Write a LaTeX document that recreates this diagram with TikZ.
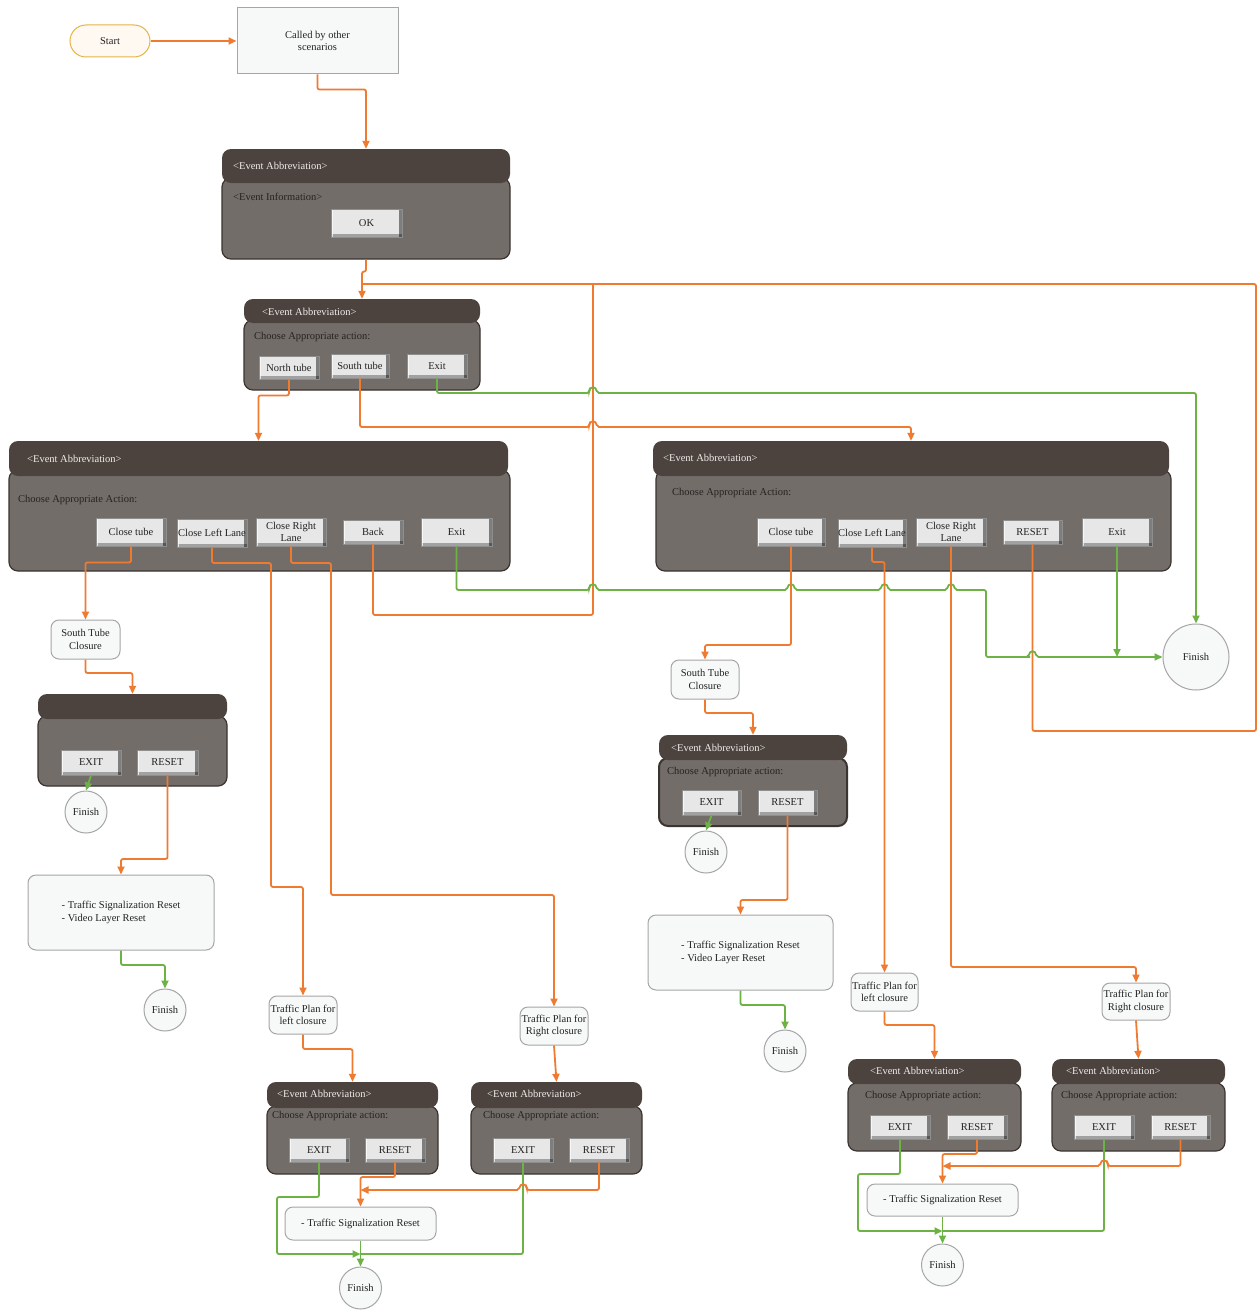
\documentclass[tikz,border=0pt]{standalone}
\usepackage{fontspec}
\setmainfont{Liberation Serif}
\usetikzlibrary{arrows.meta,fit}
\definecolor{hdrc}{HTML}{4C433E}
\definecolor{bodyc}{HTML}{736D69}
\definecolor{bodyline}{HTML}{3B3430}
\definecolor{btnc}{HTML}{E7E7E7}
\definecolor{btnline}{HTML}{8E8E8E}
\definecolor{orng}{HTML}{EE7B30}
\definecolor{grn}{HTML}{6CB245}
\definecolor{nodefill}{HTML}{F7F9F9}
\definecolor{nodeline}{HTML}{A6A6A6}
\definecolor{startfill}{HTML}{FFF9F1}
\definecolor{startline}{HTML}{E4B445}
\definecolor{hdrtext}{HTML}{EFEDEB}
\definecolor{bodytext}{HTML}{262220}
\definecolor{txt}{HTML}{222222}
\newcommand{\hopR}[2]{-- ({#1-4},#2) .. controls ({#1-3},{#2-7}) and ({#1+3},{#2-7}) .. ({#1+4},#2)}
\newcommand{\hopL}[2]{-- ({#1+4},#2) .. controls ({#1+3},{#2-7}) and ({#1-3},{#2-7}) .. ({#1-4},#2)}
\newcommand{\bx}[7]{\node[#1, minimum width={#5pt-#3pt}, minimum height={#6pt-#4pt}] (#2) at ({(#3+#5)/2},{(#4+#6)/2}) {#7};}
\tikzset{
  every node/.style={font=\fontsize{10.5}{12.5}\selectfont, text=txt},
  hdr/.style={fill=hdrc, rounded corners=9pt, inner sep=0pt},
  bdy/.style={fill=bodyc, draw=bodyline, line width=1.2pt, rounded corners=9pt, inner sep=0pt},
  htxt/.style={text=hdrtext, anchor=west, inner sep=0pt},
  btxt/.style={text=bodytext, anchor=west, inner sep=0pt},
  btn/.style={fill=btnc, draw=btnline, line width=0.8pt, inner sep=0pt, align=center,
    path picture={
      \fill[black, opacity=0.45] ([xshift=-3pt]path picture bounding box.north east) rectangle (path picture bounding box.south east);
      \fill[black, opacity=0.30] (path picture bounding box.south west) rectangle ([yshift=3pt]path picture bounding box.south east);
      \fill[white, opacity=0.7] (path picture bounding box.north west) rectangle ([xshift=2pt]path picture bounding box.south west);
    }},
  proc/.style={fill=nodefill, draw=nodeline, line width=1pt, rounded corners=8pt, inner sep=0pt, align=center},
  finish/.style={circle, fill=nodefill, draw=nodeline, line width=1pt, inner sep=0pt},
  oc/.style={draw=orng, line width=1.8pt, rounded corners=2pt},
  gc/.style={draw=grn, line width=1.8pt, rounded corners=2pt},
  ar/.style={-{Triangle[length=8pt,width=7pt]}},
}
\begin{document}
\begin{tikzpicture}[x=1pt,y=-1pt]
\fill[white] (0,0) rectangle (1258,1311);
\useasboundingbox (0,0) rectangle (1258,1311);

% ---------- top ----------
\bx{proc, rounded corners=16pt, fill=startfill, draw=startline}{start}{70}{25}{150}{57}{Start}
\bx{proc, rounded corners=0pt}{called}{237}{8}{398}{74}{Called by other\\scenarios}

% dialog 1
\node[bdy, fit={(222,178) (510,259)}] (d1b) {};
\node[hdr, fit={(222,149) (510,183)}] (d1h) {};
\node[htxt] (d1t) at (233,166) {<Event Abbreviation>};
\node[btxt] (d1i) at (233,197) {<Event Information>};
\bx{btn}{ok}{331}{209}{402}{237}{OK}

% dialog 2
\node[bdy, fit={(244,320) (480,390)}] (d2b) {};
\node[hdr, fit={(244,299) (480,323)}] (d2h) {};
\node[htxt] (d2t) at (262,312) {<Event Abbreviation>};
\node[btxt] (d2i) at (254,337) {Choose Appropriate action:};
\bx{btn}{nt}{259}{356}{319}{379}{North tube}
\bx{btn}{st}{331}{354}{389}{378}{South tube}
\bx{btn}{ex2}{407}{354}{467}{378}{Exit}

% left dialog
\node[bdy, fit={(9,470) (510,571)}] (dLb) {};
\node[hdr, fit={(9,441) (508,476)}] (dLh) {};
\node[htxt] (dLt) at (27,459) {<Event Abbreviation>};
\node[btxt] (dLi) at (18,500) {Choose Appropriate Action:};
\bx{btn}{lCT}{96}{518}{166}{546}{Close tube}
\bx{btn}{lCLL}{177}{519}{247}{547}{Close Left Lane}
\bx{btn}{lCRL}{256}{518}{326}{546}{Close Right\\Lane}
\bx{btn}{lBk}{343}{520}{403}{544}{Back}
\bx{btn}{lEx}{421}{518}{492}{546}{Exit}

% right dialog
\node[bdy, fit={(656,470) (1171,571)}] (dRb) {};
\node[hdr, fit={(653,441) (1169,476)}] (dRh) {};
\node[htxt] (dRt) at (663,458) {<Event Abbreviation>};
\node[btxt] (dRi) at (672,493) {Choose Appropriate Action:};
\bx{btn}{rCT}{757}{518}{825}{546}{Close tube}
\bx{btn}{rCLL}{838}{519}{906}{547}{Close Left Lane}
\bx{btn}{rCRL}{916}{518}{986}{546}{Close Right\\Lane}
\bx{btn}{rRS}{1003}{520}{1062}{544}{RESET}
\bx{btn}{rEx}{1082}{518}{1152}{546}{Exit}

\node[finish, minimum size=66pt] (big) at (1196,657) {Finish};

% ---------- left column ----------
\bx{proc}{stcL}{51}{620}{120}{659}{South Tube\\Closure}
\node[bdy, fit={(38,716) (227,786)}] (sLb) {};
\node[hdr, fit={(38,694) (227,719)}] (sLh) {};
\bx{btn}{sLex}{61}{750}{121}{775}{EXIT}
\bx{btn}{sLrs}{137}{750}{198}{775}{RESET}
\node[finish, minimum size=42pt] (fL1) at (86,812) {Finish};
\bx{proc, align=left}{rL}{28}{875}{214}{950}{- Traffic Signalization Reset\\- Video Layer Reset}
\node[finish, minimum size=42pt] (fL2) at (165,1010) {Finish};

% ---------- middle column ----------
\bx{proc}{stcM}{671}{660}{739}{699}{South Tube\\Closure}
\node[bdy, line width=2pt, fit={(659,758) (847,826)}] (sMb) {};
\node[hdr, fit={(659,735) (847,760)}] (sMh) {};
\node[htxt] (sMt) at (671,748) {<Event Abbreviation>};
\node[btxt] (sMi) at (667,772) {Choose Appropriate action:};
\bx{btn}{sMex}{682}{790}{741}{815}{EXIT}
\bx{btn}{sMrs}{758}{790}{817}{815}{RESET}
\node[finish, minimum size=42pt] (fM1) at (706,852) {Finish};
\bx{proc, align=left}{rM}{648}{915}{833}{990}{- Traffic Signalization Reset\\- Video Layer Reset}
\node[finish, minimum size=42pt] (fM2) at (785,1051) {Finish};

% ---------- traffic plans ----------
\bx{proc}{tpL1}{269}{996}{337}{1034}{Traffic Plan for\\left closure}
\bx{proc}{tpR1}{520}{1007}{588}{1045}{Traffic Plan for\\Right closure}
\bx{proc}{tpL2}{851}{973}{918}{1011}{Traffic Plan for\\left closure}
\bx{proc}{tpR2}{1102}{983}{1170}{1020}{Traffic Plan for\\Right closure}

% ---------- bottom dialogs ----------
\node[bdy, fit={(267,1106) (438,1174)}] (bAb) {};
\node[hdr, fit={(267,1082) (438,1108)}] (bAh) {};
\node[htxt] (bAt) at (277,1094) {<Event Abbreviation>};
\node[btxt] (bAi) at (272,1116) {Choose Appropriate action:};
\bx{btn}{bAex}{289}{1138}{349}{1162}{EXIT}
\bx{btn}{bArs}{365}{1138}{425}{1162}{RESET}

\node[bdy, fit={(471,1106) (642,1174)}] (bBb) {};
\node[hdr, fit={(471,1082) (642,1108)}] (bBh) {};
\node[htxt] (bBt) at (487,1094) {<Event Abbreviation>};
\node[btxt] (bBi) at (483,1116) {Choose Appropriate action:};
\bx{btn}{bBex}{493}{1138}{553}{1162}{EXIT}
\bx{btn}{bBrs}{569}{1138}{629}{1162}{RESET}

\bx{proc}{boxA}{285}{1207}{436}{1240}{- Traffic Signalization Reset}
\node[finish, minimum size=42pt] (fA) at (360.5,1288) {Finish};

\node[bdy, fit={(848,1083) (1021,1151)}] (bCb) {};
\node[hdr, fit={(848,1059) (1021,1084)}] (bCh) {};
\node[htxt] (bCt) at (870,1071) {<Event Abbreviation>};
\node[btxt] (bCi) at (865,1096) {Choose Appropriate action:};
\bx{btn}{bCex}{870}{1115}{930}{1139}{EXIT}
\bx{btn}{bCrs}{947}{1115}{1007}{1139}{RESET}

\node[bdy, fit={(1052,1083) (1225,1151)}] (bDb) {};
\node[hdr, fit={(1052,1059) (1225,1084)}] (bDh) {};
\node[htxt] (bDt) at (1066,1071) {<Event Abbreviation>};
\node[btxt] (bDi) at (1061,1096) {Choose Appropriate action:};
\bx{btn}{bDex}{1074}{1115}{1134}{1139}{EXIT}
\bx{btn}{bDrs}{1151}{1115}{1210}{1139}{RESET}

\bx{proc}{boxC}{867}{1184}{1018}{1216}{- Traffic Signalization Reset}
\node[finish, minimum size=42pt] (fC) at (942.5,1265) {Finish};

% ---------- connectors ----------
\draw[oc, ar, line width=2.6pt] (start.east) -- (called.west);
\draw[oc, ar] (called.south) -- ++(0,15) -| (d1h.north);
\draw[oc, ar] (d1b.south) -- ++(0,12) -| (d2h.north);
\draw[oc] (rRS.south) |- (1256,731) |- (362,284);
\draw[oc] (lBk.south) |- (593,615) -- (593,284);
\draw[oc, ar] (nt.south) -- ++(0,16) -| (dLh.north);
\draw[oc, ar] (st.south) |- (589,427) \hopR{593}{427} -| (dRh.north);
\draw[gc, ar] (ex2.south) |- (589,393) \hopR{593}{393} -| (big.north);

\draw[oc, ar] (lCT.south) -- ++(0,16) -| (stcL.north);
\draw[oc, ar] (lCLL.south) |- (271,563) |- (303,887) -- (tpL1.north);
\draw[oc, ar] (lCRL.south) |- (331,563) |- (554,895) -- (tpR1.north);
\draw[gc, ar] (lEx.south) |- (589,590) \hopR{593}{590} \hopR{791}{590} \hopR{884.5}{590} \hopR{951}{590} -- (986,590) |- (1028,657) \hopR{1032.5}{657} -- (big.west);
\draw[gc, ar] (rEx.south) -- (rEx.south |- big.west);
\draw[oc, ar] (rCT.south) |- (705,645) -- (stcM.north);
\draw[oc, ar] (rCLL.south) |- (884.5,562) -- (tpL2.north);
\draw[oc, ar] (rCRL.south) |- (1136,967) -- (tpR2.north);

\draw[oc, ar] (stcL.south) |- (132.5,673) -- (sLh.north);
\draw[gc, ar] (sLex.south) -- (fL1.north);
\draw[oc, ar] (sLrs.south) |- (121,859) -- (rL.north);
\draw[gc, ar] (rL.south) |- (165,965) -- (fL2.north);

\draw[oc, ar] (stcM.south) |- (753,713) -- (sMh.north);
\draw[gc, ar] (sMex.south) -- (fM1.north);
\draw[oc, ar] (sMrs.south) |- (740.5,900) -- (rM.north);
\draw[gc, ar] (rM.south) |- (785,1005) -- (fM2.north);

\draw[oc, ar] (tpL1.south) |- (352.5,1049) -- (bAh.north);
\draw[oc, ar] (tpR1.south) -- (bBh.north);
\draw[oc, ar] (tpL2.south) |- (934.5,1025) -- (bCh.north);
\draw[oc, ar] (tpR2.south) -- (bDh.north);

\coordinate (mA) at (360.5,1254);
\coordinate (oA) at (360.5,1190);
\draw[gc, ar] (bAex.south) |- (277,1197) |- (mA);
\draw[oc, ar] (bArs.south) |- (360.5,1177) -- (boxA.north);
\draw[gc] (bBex.south) |- (mA);
\draw[oc, ar] (bBrs.south) |- (527,1190) \hopL{523}{1190} -- (oA);
\draw[gc, ar] (boxA.south) -- (fA.north);

\coordinate (mC) at (942.5,1231);
\coordinate (oC) at (942.5,1166);
\draw[gc, ar] (bCex.south) |- (858,1174) |- (mC);
\draw[oc, ar] (bCrs.south) |- (942.5,1154) -- (boxC.north);
\draw[gc] (bDex.south) |- (mC);
\draw[oc, ar] (bDrs.south) |- (1108,1166) \hopL{1104}{1166} -- (oC);
\draw[gc, ar] (boxC.south) -- (fC.north);
\end{tikzpicture}
\end{document}
